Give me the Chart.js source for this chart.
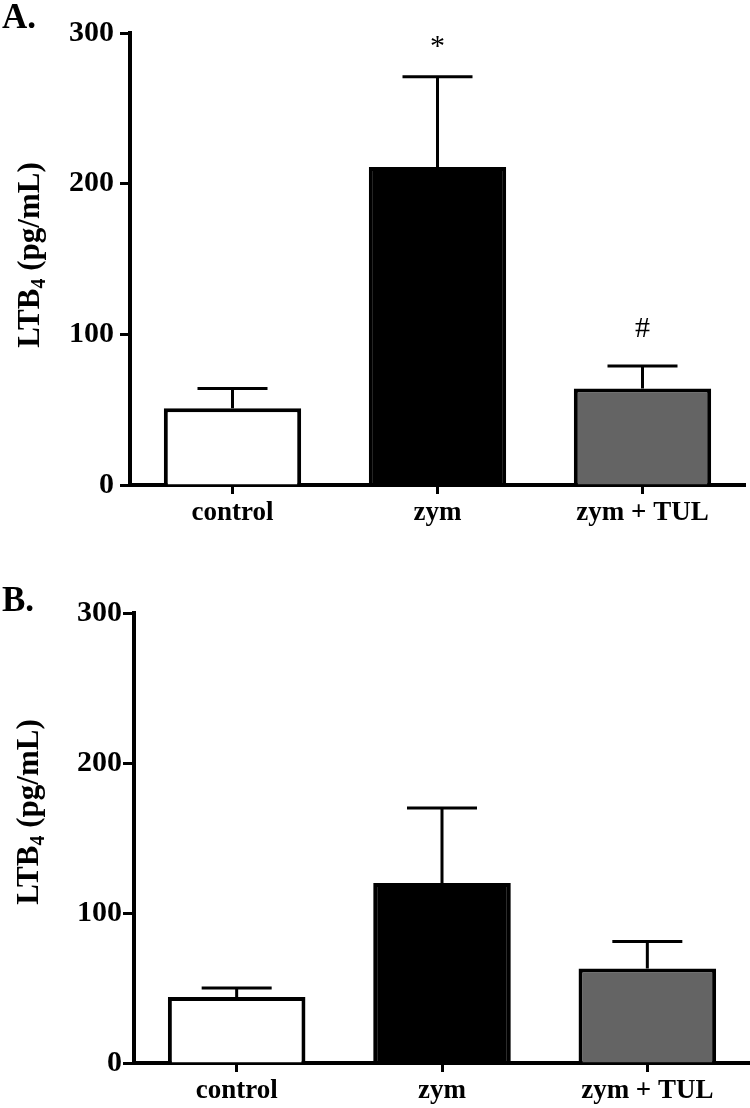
<!DOCTYPE html>
<html>
<head>
<meta charset="utf-8">
<script src="https://cdn.jsdelivr.net/npm/chart.js@4"></script>
<style>
  body { margin: 0; background: #fff; }
  .wrap { position: relative; width: 750px; height: 1108px; }
  canvas { position: absolute; left: 0; }
</style>
</head>
<body>
<div class="wrap">
  <canvas id="panelA" width="750" height="554" style="top:0"></canvas>
  <canvas id="panelB" width="750" height="554" style="top:554px"></canvas>
</div>
<script>
// data
const categories = ["control", "zym", "zym + TUL"];
const meansA = [51, 211, 64];
const semA = [13, 60, 15];
const marksA = ["", "*", "#"];
const meansB = [44, 120, 63];
const semB = [6, 50, 18];
const marksB = ["", "", ""];
const yTicks = [0, 100, 200, 300];
const barColors = ["#ffffff", "#000000", "#646464"];

const FONT = "'Liberation Serif', 'Times New Roman', serif";

// error bars (upper half only) + significance marks
const errorBarPlugin = {
  id: "errorBars",
  afterDatasetsDraw(chart, args, opts) {
    const ctx = chart.ctx;
    const xs = chart.scales.x, ys = chart.scales.y;
    ctx.save();
    ctx.strokeStyle = "#000";
    ctx.lineWidth = 3;
    opts.means.forEach((m, i) => {
      const x = xs.getPixelForValue(i);
      const y0 = ys.getPixelForValue(m);
      const y1 = ys.getPixelForValue(m + opts.sem[i]);
      ctx.beginPath();
      ctx.moveTo(x, y0);
      ctx.lineTo(x, y1);
      ctx.moveTo(x - 35, y1);
      ctx.lineTo(x + 35, y1);
      ctx.stroke();
      if (opts.marks[i]) {
        ctx.fillStyle = "#000";
        ctx.textAlign = "center";
        ctx.textBaseline = "middle";
        ctx.font = "30px " + FONT;
        ctx.fillText(opts.marks[i], x, y1 - (opts.marks[i] === "*" ? 30 : 37));
      }
    });
    ctx.restore();
  }
};

// panel letter and y title with subscript
const labelsPlugin = {
  id: "panelLabels",
  afterDraw(chart, args, opts) {
    const ctx = chart.ctx;
    ctx.save();
    ctx.fillStyle = "#000";
    ctx.font = "bold 35px " + FONT;
    ctx.textAlign = "left";
    ctx.textBaseline = "alphabetic";
    ctx.fillText(opts.letter, 2, opts.letterY);

    const big = "bold 31px " + FONT, small = "bold 20px " + FONT;
    ctx.font = big;
    const w1 = ctx.measureText("LTB").width;
    const w3 = ctx.measureText(" (pg/mL)").width;
    ctx.font = small;
    const w2 = ctx.measureText("4").width;
    const total = w1 + w2 + w3;
    ctx.translate(opts.titleX, opts.titleY);
    ctx.rotate(-Math.PI / 2);
    let cx = -total / 2;
    ctx.font = big;
    ctx.fillText("LTB", cx, 0);
    cx += w1;
    ctx.font = small;
    ctx.fillText("4", cx, 6);
    cx += w2;
    ctx.font = big;
    ctx.fillText(" (pg/mL)", cx, 0);
    ctx.restore();
  }
};

function makePanel(id, means, sem, marks, cfg) {
  const ctx = document.getElementById(id).getContext("2d");
  return new Chart(ctx, {
    type: "bar",
    data: {
      labels: categories,
      datasets: [{
        data: means,
        backgroundColor: barColors,
        borderColor: "#000",
        borderWidth: 4,
        borderSkipped: "start",
        barPercentage: 0.67,
        categoryPercentage: 1
      }]
    },
    options: {
      responsive: false,
      animation: false,
      devicePixelRatio: 1,
      layout: { padding: { left: 0, top: cfg.top, right: cfg.right, bottom: 0 } },
      plugins: {
        legend: { display: false },
        tooltip: { enabled: false },
        errorBars: { means: means, sem: sem, marks: marks },
        panelLabels: cfg.labels
      },
      scales: {
        x: {
          offset: true,
          grid: { display: true, drawOnChartArea: false, offset: false, tickLength: 9, tickWidth: 3, tickColor: "#000" },
          border: { color: "#000", width: 4 },
          ticks: { color: "#000", padding: 3, font: { family: FONT, size: 27, weight: "bold" } },
          afterFit(scale) { scale.height = cfg.xHeight; }
        },
        y: {
          min: 0,
          max: 300,
          afterBuildTicks(scale) { scale.ticks = yTicks.map(v => ({ value: v })); },
          grid: { display: true, drawOnChartArea: false, tickLength: cfg.tickLen, tickWidth: 3, tickColor: "#000" },
          border: { color: "#000", width: 4 },
          ticks: { color: "#000", padding: cfg.tickPad, font: { family: FONT, size: 30, weight: "bold" } },
          afterFit(scale) { scale.width = cfg.yWidth; }
        }
      }
    },
    plugins: [errorBarPlugin, labelsPlugin]
  });
}

makePanel("panelA", meansA, semA, marksA, {
  top: 33, right: 5, xHeight: 69, yWidth: 130, tickLen: 10, tickPad: 6,
  labels: { letter: "A.", letterY: 28, titleX: 39, titleY: 255 }
});
makePanel("panelB", meansB, semB, marksB, {
  top: 59, right: 0, xHeight: 45, yWidth: 134, tickLen: 11, tickPad: 1,
  labels: { letter: "B.", letterY: 57, titleX: 38, titleY: 258 }
});
</script>
</body>
</html>
